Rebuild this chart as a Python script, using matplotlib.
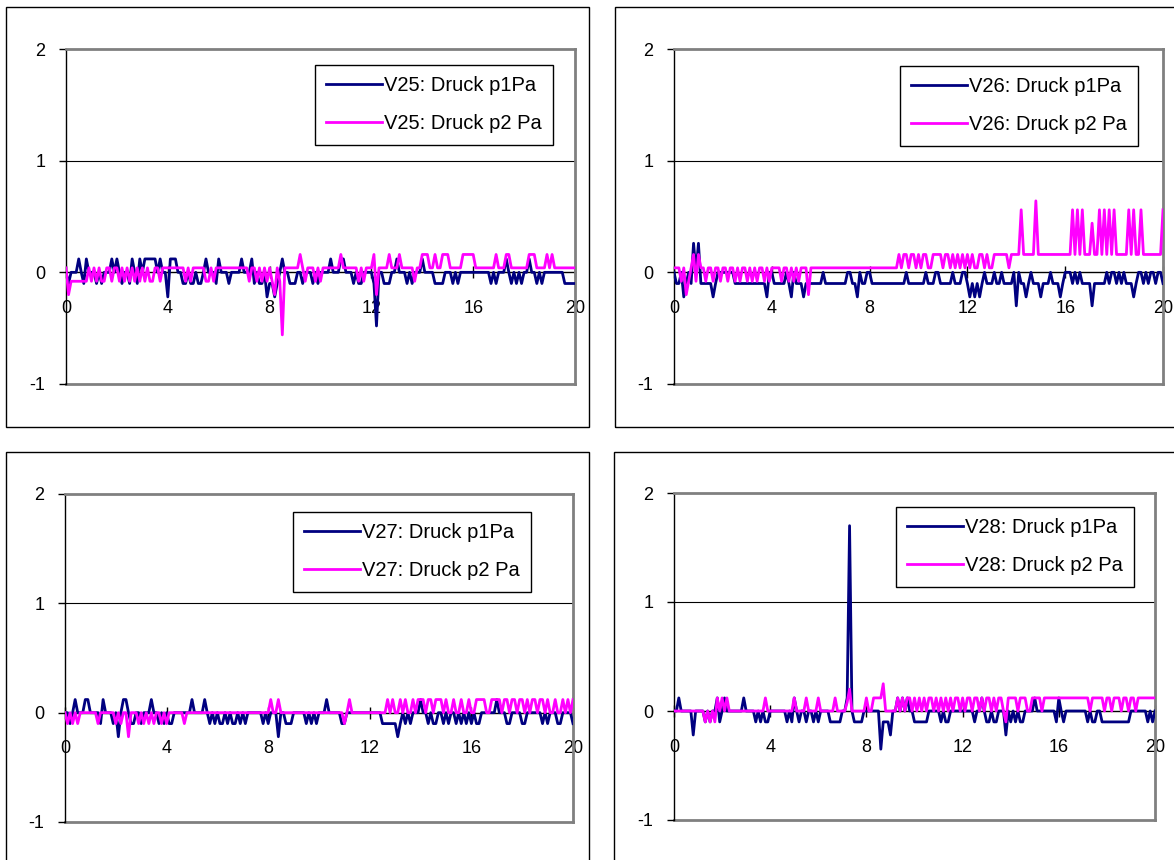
import numpy as np
import matplotlib
matplotlib.use("Agg")
import matplotlib.pyplot as plt
from matplotlib.patches import Rectangle

plt.rcParams['font.family'] = ['Liberation Sans', 'DejaVu Sans']
plt.rcParams['axes.unicode_minus'] = False

# ---------------- data (pressure in Pa, sampled every 0.1 s from 0 to 20 s) ----------------
time_s = np.round(np.arange(201) * 0.1, 1)

x_ticks = [0, 4, 8, 12, 16, 20]
y_ticks = [-1, 0, 1, 2]

v25_p1 = [
    0, -.1, 0, 0, 0, .12, 0, -.1, .12, 0,
    0, 0, -.1, 0, -.1, 0, 0, 0, .12, 0,
    .12, 0, -.1, 0, 0, -.1, .12, 0, -.1, .12,
    0, .12, .12, .12, .12, .12, 0, .12, 0, 0,
    -.22, .12, .12, .12, 0, 0, -.1, -.1, 0, -.1,
    -.1, 0, -.1, -.1, 0, .12, 0, 0, 0, -.1,
    .12, 0, 0, 0, -.1, 0, 0, 0, 0, .12,
    0, 0, 0, .12, -.1, 0, -.1, -.1, 0, -.22,
    -.1, -.1, -.22, -.1, 0, .12, 0, 0, -.1, -.1,
    -.1, 0, 0, -.1, 0, 0, 0, -.1, 0, -.1,
    0, 0, 0, 0, .12, 0, 0, 0, .12, .12,
    0, 0, 0, -.1, 0, -.1, -.1, 0, 0, 0,
    0, -.1, -.48, 0, 0, -.1, -.1, -.1, 0, 0,
    .12, 0, 0, 0, -.1, 0, -.1, 0, 0, 0,
    .12, 0, 0, 0, 0, -.1, -.1, -.1, -.1, 0,
    0, 0, -.1, 0, -.1, 0, 0, 0, 0, 0,
    0, 0, 0, 0, 0, 0, 0, -.1, 0, -.1,
    0, 0, 0, .12, 0, -.1, 0, -.1, 0, -.1,
    0, 0, .12, 0, 0, -.1, 0, -.1, 0, 0,
    0, 0, 0, 0, 0, 0, -.1, -.1, -.1, -.1,
    -.1,
]
v25_p2 = [
    .04, -.2, -.08, -.08, -.08, -.08, -.08, -.08, -.08, .04,
    -.08, .04, -.08, .04, -.08, -.08, .04, .04, -.08, .04,
    .04, -.08, .04, -.08, .04, -.08, .04, -.08, .04, -.08,
    .04, -.08, .04, -.08, -.08, .04, .04, -.08, .04, .04,
    .04, .04, .04, .04, .04, .04, .04, -.08, .04, -.08,
    .04, .04, .04, .04, .04, -.08, -.08, .04, -.08, .04,
    .04, .04, .04, .04, .04, .04, .04, .04, .04, .04,
    .04, .04, -.08, .04, .04, -.08, .04, -.08, .04, -.08,
    .04, -.08, -.2, .04, -.08, -.56, .04, .04, .04, .04,
    .04, .04, .16, .04, -.08, .04, .04, .04, -.08, .04,
    -.08, .04, .04, .04, .04, .04, .04, .04, .16, .04,
    .04, .04, .04, .04, .04, -.08, .04, -.08, .04, .04,
    .04, .16, -.2, .04, .04, .04, .04, .16, .04, .04,
    .04, .16, .04, .04, .04, .04, .04, -.08, .04, .04,
    .16, .16, .16, .04, .04, .16, .04, .04, .16, .16,
    .16, .04, .04, .04, .04, .04, .16, .16, .16, .16,
    .16, .04, .04, .04, .04, .04, .04, .04, .04, .16,
    .04, .04, .04, .16, .16, .04, .04, .04, .04, .04,
    .04, .04, .16, .16, .16, .04, .04, .04, .04, .16,
    .04, .16, .04, .04, .04, .04, .04, .04, .04, .04,
    .04,
]

v26_p1 = [
    0, -.1, -.1, 0, -.22, -.1, 0, -.1, .26, 0,
    .26, -.1, -.1, -.1, -.1, -.1, -.22, -.1, 0, 0,
    0, 0, 0, 0, 0, -.1, -.1, -.1, -.1, -.1,
    -.1, -.1, -.1, -.1, -.1, -.1, -.1, -.1, -.22, 0,
    0, -.1, -.1, -.1, -.1, -.1, 0, -.1, -.22, 0,
    -.1, -.1, -.1, -.22, -.1, -.1, -.1, -.1, -.1, -.1,
    -.1, 0, -.1, -.1, -.1, -.1, -.1, -.1, -.1, -.1,
    -.1, 0, 0, -.1, -.1, -.22, 0, -.1, -.1, 0,
    0, -.1, -.1, -.1, -.1, -.1, -.1, -.1, -.1, -.1,
    -.1, -.1, -.1, -.1, -.1, 0, -.1, -.1, -.1, -.1,
    -.1, -.1, -.1, 0, -.1, -.1, -.1, 0, 0, -.1,
    -.1, -.1, -.1, -.1, 0, -.1, -.1, -.1, 0, 0,
    -.1, -.22, -.1, -.22, -.1, -.22, -.1, 0, -.1, -.1,
    -.1, 0, -.1, -.1, 0, -.1, -.1, -.1, -.1, 0,
    -.3, 0, -.1, -.1, -.22, -.1, 0, -.1, -.1, -.1,
    -.22, -.1, -.1, -.1, 0, -.1, -.1, -.1, -.22, -.1,
    0, 0, 0, -.1, 0, -.1, 0, -.1, -.1, -.1,
    -.1, -.3, -.1, -.1, -.1, -.1, -.1, 0, -.1, 0,
    0, -.1, 0, -.1, 0, -.1, -.1, -.1, -.22, -.1,
    0, 0, -.1, 0, -.1, 0, 0, -.1, 0, 0,
    -.1,
]
v26_p2 = [
    .04, .04, .04, -.08, .04, -.2, -.08, .04, .16, -.08,
    .16, .04, .04, -.08, .04, .04, -.08, .04, .04, -.08,
    .04, .04, -.08, .04, .04, -.08, .04, -.08, .04, .04,
    -.08, .04, -.08, .04, -.08, .04, .04, -.08, .04, -.08,
    .04, .04, .04, .04, -.08, .04, .04, -.08, .04, -.08,
    .04, -.08, .04, .04, .04, -.2, .04, .04, .04, .04,
    .04, .04, .04, .04, .04, .04, .04, .04, .04, .04,
    .04, .04, .04, .04, .04, .04, .04, .04, .04, .04,
    .04, .04, .04, .04, .04, .04, .04, .04, .04, .04,
    .04, .04, .16, .04, .16, .16, .04, .16, .16, .04,
    .16, .04, .16, .16, .04, .04, .16, .16, .16, .16,
    .04, .16, .16, .04, .16, .04, .16, .04, .16, .04,
    .16, .04, .16, .04, .04, .16, .16, .04, .16, .04,
    .04, .16, .16, .16, .16, .16, .16, .04, .16, .16,
    .16, .16, .56, .16, .16, .16, .16, .16, .64, .16,
    .16, .16, .16, .16, .16, .16, .16, .16, .16, .16,
    .16, .16, .16, .56, .16, .56, .16, .56, .16, .16,
    .16, .44, .16, .16, .56, .16, .56, .16, .56, .16,
    .56, .16, .16, .16, .16, .16, .56, .16, .56, .16,
    .16, .56, .16, .16, .16, .16, .16, .16, .16, .16,
    .56,
]

v27_p1 = [
    0, 0, -.1, 0, .12, 0, 0, 0, .12, .12,
    0, 0, 0, 0, -.1, .12, 0, 0, 0, -.1,
    0, -.22, 0, .12, .12, 0, -.1, -.1, 0, 0,
    -.1, 0, 0, 0, .12, 0, 0, -.1, 0, -.1,
    0, -.1, -.1, 0, 0, 0, 0, 0, 0, 0,
    .12, 0, 0, 0, 0, .12, 0, -.1, 0, -.1,
    0, -.1, -.1, 0, -.1, 0, -.1, -.1, 0, -.1,
    0, -.1, 0, 0, 0, 0, 0, 0, -.1, 0,
    -.1, 0, 0, 0, -.22, 0, 0, -.1, -.1, -.1,
    0, 0, 0, 0, 0, -.1, 0, -.1, 0, -.1,
    0, 0, 0, .12, 0, 0, 0, 0, 0, -.1,
    -.1, 0, 0, 0, 0, 0, 0, 0, 0, 0,
    0, 0, 0, 0, 0, -.1, -.1, -.1, -.1, -.1,
    -.1, -.22, -.1, 0, -.1, 0, -.1, 0, 0, 0,
    .12, 0, 0, -.1, 0, -.1, -.1, 0, 0, -.1,
    0, -.1, 0, 0, -.1, 0, -.1, 0, -.1, 0,
    -.1, 0, -.1, -.1, 0, 0, 0, 0, 0, 0,
    .12, 0, 0, 0, -.1, -.1, 0, 0, 0, 0,
    -.1, -.1, 0, 0, 0, 0, 0, 0, -.1, 0,
    -.1, 0, 0, 0, -.1, -.1, 0, 0, 0, 0,
    -.1,
]
v27_p2 = [
    0, -.1, 0, -.1, 0, -.1, 0, 0, 0, 0,
    0, 0, 0, -.1, 0, 0, 0, 0, 0, 0,
    -.1, 0, -.1, 0, 0, -.22, 0, 0, 0, -.1,
    0, -.1, 0, -.1, 0, -.1, 0, 0, -.1, 0,
    -.1, 0, 0, 0, 0, 0, 0, -.1, 0, 0,
    0, 0, 0, 0, 0, 0, 0, 0, 0, 0,
    0, 0, 0, 0, 0, 0, 0, 0, 0, 0,
    0, 0, 0, 0, 0, 0, 0, 0, 0, 0,
    0, .12, 0, 0, .12, 0, 0, 0, 0, 0,
    0, 0, 0, 0, 0, 0, 0, 0, 0, 0,
    0, 0, 0, 0, 0, 0, 0, 0, 0, 0,
    -.1, 0, .12, 0, 0, 0, 0, 0, 0, 0,
    0, 0, 0, 0, 0, 0, 0, .12, 0, .12,
    0, 0, .12, 0, .12, 0, 0, .12, 0, .12,
    .12, .12, 0, .12, .12, 0, .12, .12, .12, 0,
    .12, 0, 0, .12, 0, 0, .12, 0, 0, .12,
    0, 0, .12, .12, .12, .12, 0, 0, .12, .12,
    .12, .12, 0, .12, .12, 0, .12, .12, 0, .12,
    .12, 0, .12, 0, .12, .12, 0, .12, .12, 0,
    .12, 0, 0, .12, 0, 0, .12, 0, .12, 0,
    .12,
]

v28_p1 = [
    0, 0, .12, 0, 0, 0, 0, 0, -.22, 0,
    0, 0, 0, -.1, 0, -.1, 0, 0, .12, -.1,
    0, .12, 0, 0, 0, 0, 0, 0, 0, .12,
    0, 0, 0, 0, -.1, 0, -.1, 0, -.1, -.1,
    0, 0, 0, 0, 0, 0, 0, -.1, 0, -.1,
    .12, 0, -.1, 0, 0, -.1, 0, 0, -.1, 0,
    -.1, 0, 0, 0, 0, -.1, -.1, -.1, -.1, -.1,
    0, 0, .12, 1.7, 0, -.1, -.1, -.1, -.1, 0,
    0, 0, 0, 0, 0, 0, -.35, -.1, -.1, -.1,
    -.22, 0, 0, .12, 0, .12, 0, .12, 0, 0,
    -.1, -.1, -.1, -.1, -.1, -.1, 0, 0, 0, 0,
    0, -.1, 0, -.1, -.1, 0, 0, 0, 0, 0,
    0, 0, 0, 0, 0, -.1, 0, 0, .12, 0,
    -.1, -.1, 0, -.1, -.1, 0, 0, 0, -.22, 0,
    -.1, 0, -.1, 0, -.1, -.1, 0, 0, 0, 0,
    .12, 0, 0, 0, 0, 0, 0, 0, 0, -.1,
    .12, 0, -.1, 0, 0, 0, 0, 0, 0, 0,
    0, 0, -.1, 0, -.1, -.1, 0, 0, -.1, -.1,
    -.1, -.1, -.1, -.1, -.1, -.1, -.1, -.1, -.1, -.1,
    0, 0, 0, 0, 0, 0, 0, -.1, 0, -.1,
    0,
]
v28_p2 = [
    0, 0, 0, 0, 0, 0, 0, 0, 0, 0,
    0, 0, 0, -.1, 0, -.1, 0, -.1, .12, 0,
    .12, 0, .12, 0, 0, 0, 0, 0, 0, 0,
    0, 0, 0, 0, 0, 0, 0, 0, .12, 0,
    0, 0, 0, 0, 0, 0, 0, 0, 0, 0,
    .12, 0, 0, 0, 0, .12, 0, 0, 0, 0,
    .12, 0, 0, 0, 0, 0, 0, .12, 0, 0,
    0, 0, .08, .2, 0, 0, 0, 0, 0, 0,
    .12, 0, 0, .12, .12, .12, .12, .25, 0, 0,
    0, 0, 0, .12, 0, .12, 0, .12, .12, 0,
    .12, 0, .12, 0, .12, 0, .12, .12, 0, .12,
    0, .12, 0, .12, 0, .12, 0, .12, .12, 0,
    .12, 0, .12, .12, 0, .12, .12, 0, .12, 0,
    .12, .12, 0, .12, 0, .12, .12, 0, -.1, .12,
    .12, .12, .12, 0, .12, .12, .12, 0, 0, .12,
    .12, .12, .12, 0, .12, .12, .12, .12, .12, .12,
    .12, .12, .12, .12, .12, .12, .12, .12, .12, .12,
    .12, .12, .12, 0, .12, .12, .12, .12, .12, 0,
    .12, .12, 0, .12, .12, .12, 0, .12, .12, 0,
    .12, .12, 0, .12, .12, .12, .12, .12, .12, .12,
    .12,
]

series_names = ["V25", "V26", "V27", "V28"]
p1_series = [v25_p1, v26_p1, v27_p1, v28_p1]
p2_series = [v25_p2, v26_p2, v27_p2, v28_p2]

# ---------------- layout (pixel boxes in the 1174x860 canvas) ----------------
W, H = 1174, 860
fig = plt.figure(figsize=(W / 100, H / 100), dpi=100)
fig.patch.set_facecolor("white")

frames = [(6, 7, 589, 427), (615, 7, 1190, 427), (6, 452, 589, 880), (614, 452, 1190, 880)]
plots = [(66, 49, 575, 384), (674, 49, 1163, 384), (65, 494, 573, 822), (674, 493, 1155, 820)]
legend_anchor = [(315, 65), (900, 66), (293, 512), (896, 507)]

BLUE = "#000080"
PINK = "#FF00FF"
GRAY = "#808080"
FS = 13
LEG_FS = 14.5

for (fl, ft, fr, fb) in frames:
    fig.add_artist(Rectangle((fl / W, 1 - fb / H), (fr - fl) / W, (fb - ft) / H,
                             transform=fig.transFigure, fill=False,
                             edgecolor="black", linewidth=1.0))

for i, name in enumerate(series_names):
    l, t, r, b = plots[i]
    ax = fig.add_axes([l / W, 1 - b / H, (r - l) / W, (b - t) / H])
    ax.set_xlim(0, 20)
    ax.set_ylim(-1, 2)
    ax.axhline(1, color="black", linewidth=0.8, zorder=1)
    ax.axhline(-1, color=GRAY, linewidth=2.0, clip_on=False, zorder=1)
    ax.plot(time_s, p1_series[i], color=BLUE, linewidth=2.0, zorder=3,
            label=f"{name}: Druck p1Pa")
    ax.plot(time_s, p2_series[i], color=PINK, linewidth=2.0, zorder=3,
            label=f"{name}: Druck p2 Pa")

    for side in ("top", "right"):
        ax.spines[side].set_color(GRAY)
        ax.spines[side].set_linewidth(2.0)
    ax.spines["left"].set_color("black")
    ax.spines["left"].set_linewidth(1.0)
    ax.spines["bottom"].set_position(("data", 0))
    ax.spines["bottom"].set_color("black")
    ax.spines["bottom"].set_linewidth(1.0)
    ax.spines["bottom"].set_zorder(2)

    ax.set_xticks(x_ticks)
    ax.set_xticklabels([str(v) for v in x_ticks])
    ax.set_yticks(y_ticks)
    ax.set_yticklabels([str(v) for v in y_ticks])
    ax.tick_params(axis="x", direction="inout", length=8, width=1, color="black",
                   labelsize=FS, pad=16)
    ax.tick_params(axis="y", direction="out", length=5, width=1, color="black",
                   labelsize=FS, pad=10)

    lx, ly = legend_anchor[i]
    leg = ax.legend(loc="upper left", bbox_to_anchor=(lx / W, 1 - ly / H),
                    bbox_transform=fig.transFigure, borderaxespad=0,
                    fancybox=False, frameon=True, edgecolor="black",
                    framealpha=1, fontsize=LEG_FS, handlelength=2.75,
                    handletextpad=0.1, labelspacing=0.94, borderpad=0.57)
    leg.get_frame().set_linewidth(1.0)

fig.savefig("out.png", dpi=100, facecolor="white")
